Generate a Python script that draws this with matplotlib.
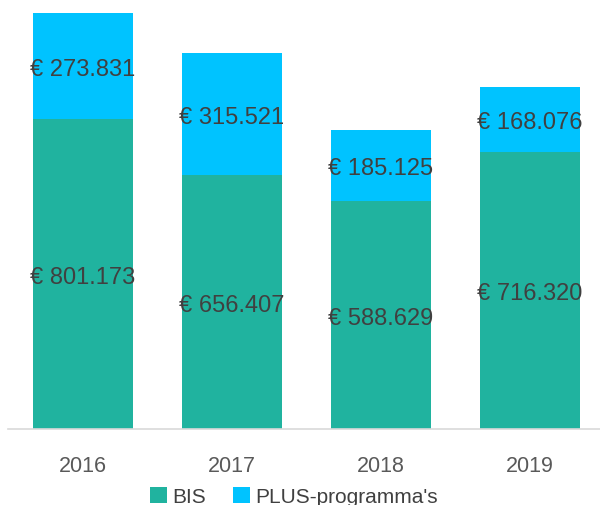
import matplotlib.pyplot as plt
import numpy as np

plt.rcParams['font.family'] = ['Liberation Sans', 'DejaVu Sans']

years = ["2016", "2017", "2018", "2019"]
bis = [801173, 656407, 588629, 716320]
plus = [273831, 315521, 185125, 168076]

green = "#20B39F"
blue = "#00C3FF"


def euro(v):
    return "€ " + f"{v:,}".replace(",", ".")


fig = plt.figure(figsize=(6, 5.06), dpi=100)
ax = fig.add_axes([8 / 600, 76 / 506, 592 / 600, 431 / 506])

x = np.arange(len(years))
w = 0.671
ax.bar(x, bis, w, color=green, label="BIS")
ax.bar(x, plus, w, bottom=bis, color=blue, label="PLUS-programma's")

for i in range(len(years)):
    ax.text(x[i], bis[i] / 2, euro(bis[i]), ha="center", va="center_baseline",
            fontsize=17, color="#404040")
    ax.text(x[i], bis[i] + plus[i] / 2, euro(plus[i]), ha="center",
            va="center_baseline", fontsize=17, color="#404040")

ax.set_xlim(-0.503, 3.47)
ax.set_ylim(0, 1115000)
ax.set_xticks(x)
ax.set_xticklabels(years, fontsize=15.5, color="#595959")
ax.tick_params(axis="x", length=0, pad=19)
ax.set_yticks([])
for s in ["top", "right", "left"]:
    ax.spines[s].set_visible(False)
ax.spines["bottom"].set_color("#D9D9D9")
ax.spines["bottom"].set_linewidth(1.2)

fig.legend(loc="lower center", bbox_to_anchor=(0.49, -0.04), ncol=2,
           frameon=False, fontsize=15, handlelength=0.8, handleheight=0.8,
           handletextpad=0.25, columnspacing=1.3, labelcolor="#404040")

fig.savefig("out.png", dpi=100)
